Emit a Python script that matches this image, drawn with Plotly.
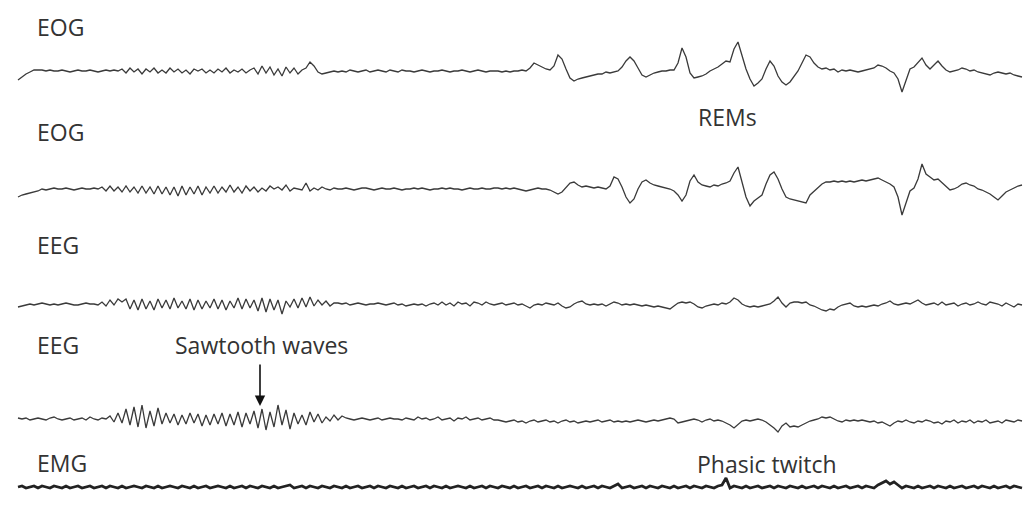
import plotly.graph_objects as go

# ---- data: sample grid (pixel-time units) and trace amplitudes (up = positive) ----
t_start, t_step, n_samples = 18, 4, 252
channel_names = ["EOG", "EOG", "EEG", "EEG", "EMG"]

eog1 = ([-9, -6, -3, -1, 1, 1]
        + [1, 0, 1, 0, 0, 1, 0, -1, 0, 1, 0, 0, 1, 0, -1, 0, 1, 0, 1, 0]
        + [2, -2, 3, -1, 2, -3, 2, -1, 3, -2, 1, -2, 3, -1, 2, -2, 1, -3, 2, 0,
           2, -2, 1, -2, 2, -1, 3, -2, 1, -1, 2, -2, 1]
        + [3, -3, 5, -2, 4, -4, 2, -5, 4, -2, 3, -3, 1, 3]
        + [9, 5, -1, -3, -2]
        + [-1, 0, -1, 0, -1, 1, 0, -1, 0, 1, -1, 0, 1, 0, -1, 1, 0, -1, 1, 0, 0,
           -1, 0, 1, 0, -1, 0, 0, 1, 0, -1, 0, 0, 1, 0, -1, 0, 1, 0, -1, 0, 0]
        + [0, -1, 0, -1, 0, 0, 1, 0, 3, 8, 6, 4, 2, 1, 5, 16, 12, 2, -7, -10,
           -8, -7, -6, -5, -4, -3, -3, -1, -2, -1, 0, 4, 10, 14, 10, 3, -4, -6, -4, -2,
           -1, 0, 0, 1, 1, 8, 23, 14, -2, -7, -6, -5, -3, 0, 2, 4, 7, 10, 9, 22,
           29, 15, 2, -8, -15, -12, -8, 2, 10, 5, -5, -11, -14, -11, -6, 0, 8, 16, 14, 8,
           4, 2, 3, 1, 2, -1, 1, 0, 1, 0, -1, 0, 1, 2, 3, 6, 5, 3, 0, -2,
           -8, -21, -10, 2, 4, 8, 13, 6, 2, 6, 10, 5, 1, -1, 0, 1, 3, 2, 0, 1,
           -1, -2, -3, -4, -2, -1, -2, -3, -2, -4, -5, -6])

eog2 = ([-8, -6, -5, -4, -3, -2]
        + [0, -1, 0, 1, 0, 0, 1, 0, -1, 0, 1, 0, 0, 1, 0]
        + [2, -2, 3, -2, 2, -3, 3, -3, 2, -4, 3, -4, 2, -5, 3, -5, 2, -6, 2, -7,
           3, -6, 2, -5, 3, -6, 2, -4, 3, -4, 2, -3, 4, -3, 2, -4, 3, -2, 2, -3,
           1, -2, 3, 0, 2, -1, 4, -2, 1, 0, -1, 6, -2, 1, -1, 2, 0, -1, 1, 0]
        + [0, 1, 0, -1, 0, 1, 1, 0, -1, 0, 1, 0, 0, 1, 0, -1, 0, 0, 1, 0, 1, 0,
           -1, 0, 0, 1, 0, 1, 0, 0, -1, 0, 1, 0, 0, 1, 0, 0, 1]
        + [1, 0, 1, 0, 1, 0, -1, -2, -1, 0, 1, 0, 0, -1, -3, -5, -3, 2, 6, 7,
           4, 2, 3, 2, 1, 2, 1, 0, 3, 12, 10, 2, -8, -14, -10, 0, 7, 9, 6, 4,
           3, 2, 1, 0, -2, -6, -12, -6, 8, 14, 7, 4, 3, 2, 4, 3, 5, 6, 8, 16,
           22, 8, -8, -17, -12, -9, -6, 5, 14, 17, 10, 0, -8, -10, -11, -12, -13, -14, -6, -2,
           2, 5, 7, 7, 8, 7, 8, 7, 8, 7, 8, 9, 8, 9, 10, 11, 9, 7, 5, 2,
           -8, -26, -14, -2, 1, 10, 25, 15, 12, 9, 10, 6, 2, -1, 0, 2, 5, 6, 4, 3,
           0, -1, -3, -5, -8, -11, -7, -3, -1, 1, 3, 4])

eeg1 = ([-3]
        + [-2, -1, 0, -1, 0, 1, 0, -1, 0, -1, 0, 1, 0, -1, -1, 0, 1, 0, 0, -1]
        + [2, -2, 4, -1, 5, 2]
        + [5, -5, 4, -6, 5, -5, 3, -6, 5, -4, 4, -5, 6, -4, 3, -5, 5, -6, 4, -5,
           3, -4, 5, -5, 4, -6, 3, -4, 6, -5, 5, -4, 4, -7, 6, -8, 5, -6, 4, -10,
           3, -3, 5, -4, 6, -3, 7, -2, 4, -1, 3, -2, 1]
        + [1, 0, 1, -1, 0, 1, 0, -1, 0, 0, 1, 0, -1, 0, 1, -1, 0, -2, -1, 0,
           -1, 0, -2, 0, 1, -1, 2, -1, 1, -2, 2, 0, 1, -2, 2, 1, -1, 2, 0, -1]
        + [0, 1, -1, 0, 1, -1, 0, -2, -4, -1, 0, -1, 1, 0, -1, 1, -2, -4, -3, 0,
           2, 3, 0, -1, 0, -1, 0, -2, 0, 2, 1, -1, 0, -1, 0, -1, -2, -1, -2, -3,
           -2, -3, -4, -5, -2, 1, 2, 1, 2, 0, -3, -4, -2, -1, 0, -1, 1, 0, 2, 6,
           4, 0, -2, -3, -2, -3, -2, -1, 0, 3, 7, 1, -3, 1, 2, 2, 1, 2, -1, -2,
           -4, -6, -7, -5, -6, -3, -1, 0, 1, -2, -3, -2, -3, -2, -1, -2, 0, 1, 3, 0,
           -1, 0, 1, 0, 2, 4, 1, -1, 0, 1, -1, 2, -1, 0, 1, -2, 0, 1, -1, 0,
           2, 0, -1, 2, 1, 0, -2, 1, -1, -3, 0, -1])

eeg2 = ([1, 0, 1, -1, 0, 1, 0, -1, 1, 2, 0, -1, 0, 1, -1, 0, 1, -1, 2, 0, -1, 1, 0]
        + [3, -3, 6, -4, 10, -6, 12, -8, 14, -9, 8, -7, 11, -5, 6, -4, 5, -6, 4, -5,
           6, -4, 5, -7, 4, -6, 5, -5, 6, -7, 5, -6, 7, -8, 6, -5, 8, -9, 10, -11,
           7, -8, 14, -6, 9, -10, 6, -5, 4, -6, 7, -3, 5, -4, 2, -2, 4, -1]
        + [3, 1, 0, -1, 0, 1, 0, -1, 0, 1, -1, 0, 1, 0, 0, -1, 1, 0, -1, 2, 0, 1,
           -1, 0, 2, -1, 0, 1, -2, 1, 0, 2, -1, 0, 1, -1, 0, 1, -1]
        + [-1, -2, -3, -2, -1, -3, -2, -4, -2, -1, -3, -2, -1, -3, -2, -4, -2, -1, -3, -2,
           -4, -3, -2, -3, -2, -1, -3, -2, -1, -3, -2, -3, -2, -3, -2, -1, -2, -3, -2, -1,
           -2, -1, 0, 1, 0, -4, -3, -2, -1, 0, -1, -3, -1, 0, -2, -1, -2, -4, -6, -9,
           -5, -2, -1, -2, -1, 0, -1, -3, -6, -9, -13, -7, -4, -8, -7, -8, -6, -4, -2, -1,
           0, 2, 1, 2, 0, -2, -3, -1, -2, -1, -2, -1, -2, -3, -2, -4, -3, -5, -7, -4,
           -2, -3, -1, -3, -4, -2, -3, -1, -2, -4, -3, -5, -2, -3, -1, -4, -2, -3, -1, -4,
           -2, -3, -1, -4, -3, -2, -4, -1, -2, -3, -1, -2])

emg = ([0, 1, -1, 0, 1, -1, 1, 0, -1, 1, 0, -1, 1, -1, 0, 1, -1, 0, 1, -1]
       + [0, 1, -1, 1, 0, -1, 1, -1, 0, 1, 0, -1, 1, 0, -1, 1, -1, 0, 1, 0]
       + [-1, 1, 0, -1, 1, -1, 0, 1, -1, 0, 1, 0, -1, 1, -1, 0, 1, -1, 1, 0]
       + [-1, 1, 0, -1, 1, -1, 0, 1, 2, -1, 0, 1, -1, 1, 0, -1, 1, 0, -1, 1]
       + [0, -1, 1, -1, 0, 1, -1, 0, 1, -1, 1, 0, -1, 1, 0, -1, 1, -1, 0, 1]
       + [-1, 0, 1, -1, 1, 0, -1, 1, -1, 0, 1, 0, -1, 1, -1, 0, 1, -1, 1, 0]
       + [-1, 1, 0, -1, 1, -1, 0, 1, -1, 0, 1, -1, 1, 0, -1, 1, -1, 0, 1, 0]
       + [-1, 1, -1, 0, 1, -1, 1, 0, -1, 1, 3, -1, 0, 1, -1, 0, 1, -1, 1, 0]
       + [-1, 1, 0, -1, 1, -1, 0, 1, -1, 1, 0, -1, 1, 0, -1, 1, 2, 9, -1, 1]
       + [0, -1, 1, -1, 0, 1, -1, 0, 1, -1, 1, 0, -1, 1, 0, -1, 1, -1, 0, 1]
       + [-1, 1, 0, -1, 1, -1, 0, 1, -1, 0, 1, -1, 1, 0, -1, 2, 4, 6, 3, 5]
       + [2, -1, 1, 0, -1, 1, -1, 0, 1, -1, 1, 0, -1, 1, -1, 0, 1, -1, 0, 1]
       + [-1, 1, 0, -1, 1, -1, 0, 1, -1, 1, 0, -1])

annotation_texts = ["REMs", "Sawtooth waves", "Phasic twitch"]

# ---- layout (pixel-space positions) ----
W, H = 1023, 513
baselines = [71, 189, 304, 419, 487]
label_y = [27, 132, 245, 345, 463]
line_widths = [1.3, 1.3, 1.3, 1.3, 2.8]
line_colors = ["#3a3a3a", "#3a3a3a", "#3a3a3a", "#3a3a3a", "#222222"]

t = [t_start + t_step * i for i in range(n_samples)]
series = [eog1, eog2, eeg1, eeg2, emg]

fig = go.Figure()
for vals, base, lw, lc in zip(series, baselines, line_widths, line_colors):
    fig.add_trace(go.Scatter(
        x=t[:len(vals)], y=[base - v for v in vals], mode="lines",
        line=dict(color=lc, width=lw, shape="linear"), hoverinfo="skip",
        showlegend=False))

font = dict(family="Open Sans, Noto Sans, sans-serif", size=23, color="#333333")
annotations = []
for name, ly in zip(channel_names, label_y):
    annotations.append(dict(x=35, y=ly, xref="x", yref="y", text=name,
                            showarrow=False, xanchor="left", yanchor="middle", font=font))
annotations.append(dict(x=727, y=117, xref="x", yref="y", text=annotation_texts[0],
                        showarrow=False, xanchor="center", yanchor="middle", font=font))
annotations.append(dict(x=173, y=345, xref="x", yref="y", text=annotation_texts[1],
                        showarrow=False, xanchor="left", yanchor="middle", font=font))
annotations.append(dict(x=695, y=464, xref="x", yref="y", text=annotation_texts[2],
                        showarrow=False, xanchor="left", yanchor="middle", font=font))
# arrow pointing at sawtooth waves
annotations.append(dict(x=260, y=406, ax=260, ay=363, xref="x", yref="y",
                        axref="x", ayref="y", text="", showarrow=True,
                        arrowhead=2, arrowsize=1.3, arrowwidth=1.6, arrowcolor="#111111"))

fig.update_layout(
    width=W, height=H, margin=dict(l=0, r=0, t=0, b=0),
    paper_bgcolor="white", plot_bgcolor="white",
    xaxis=dict(range=[0, W], visible=False, fixedrange=True),
    yaxis=dict(range=[H, 0], visible=False, fixedrange=True),
    annotations=annotations,
)

fig.write_html(
    "out.html",
    config={"displayModeBar": False},
    post_script="document.body.style.margin='0';document.body.style.overflow='hidden';"
                "document.documentElement.style.overflow='hidden';",
)
